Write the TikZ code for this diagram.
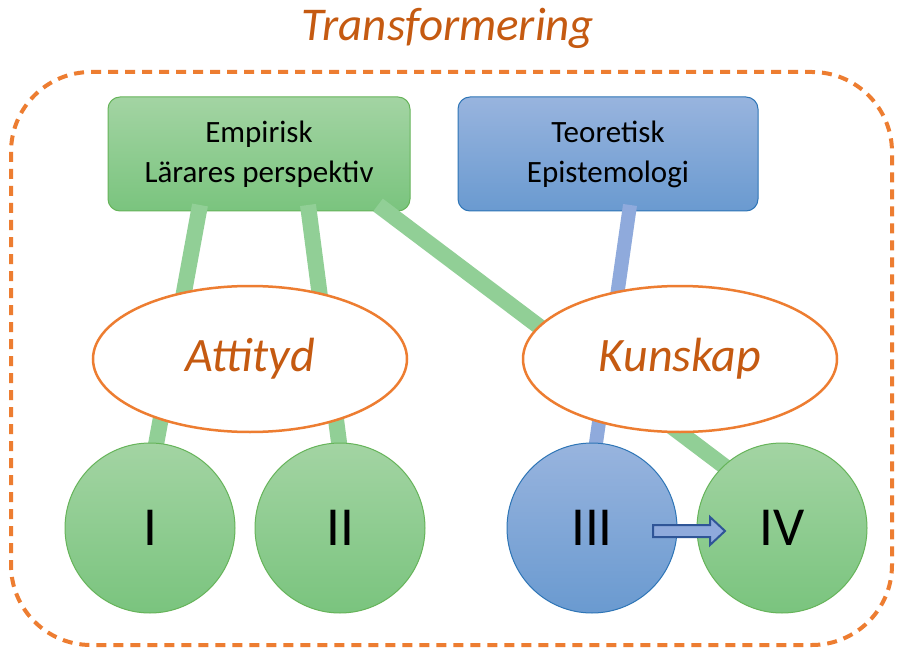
\documentclass[tikz,border=0pt]{standalone}
\usepackage{fontspec}
\setmainfont{Carlito}
\usetikzlibrary{shapes.geometric}
\definecolor{orangeL}{RGB}{237,125,49}
\definecolor{orangeT}{RGB}{197,90,17}
\definecolor{greenTop}{RGB}{163,212,163}
\definecolor{greenBot}{RGB}{122,196,126}
\definecolor{greenBd}{RGB}{102,180,90}
\definecolor{greenLn}{RGB}{145,207,150}
\definecolor{blueTop}{RGB}{152,180,222}
\definecolor{blueBot}{RGB}{106,154,208}
\definecolor{blueBd}{RGB}{46,117,182}
\definecolor{blueLn}{RGB}{143,170,220}
\definecolor{arrowBd}{RGB}{47,85,151}
\tikzset{
  gbox/.style={rounded corners=12pt, draw=greenBd, line width=1pt, top color=greenTop, bottom color=greenBot, minimum width=302pt, minimum height=114pt, align=center, font=\fontsize{31}{40}\selectfont},
  bbox/.style={rounded corners=12pt, draw=blueBd, line width=1pt, top color=blueTop, bottom color=blueBot, minimum width=300pt, minimum height=114pt, align=center, font=\fontsize{31}{40}\selectfont},
  topic/.style={ellipse, draw=orangeL, line width=2.5pt, fill=white, inner sep=0pt, minimum width=314pt, minimum height=146pt, font=\fontsize{48}{54}\selectfont\itshape, text=orangeT},
  gcirc/.style={circle, draw=greenBd, line width=1pt, top color=greenTop, bottom color=greenBot, minimum size=170pt, inner sep=0pt, font=\fontsize{55}{60}\selectfont},
  bcirc/.style={circle, draw=blueBd, line width=1pt, top color=blueTop, bottom color=blueBot, minimum size=170pt, inner sep=0pt, font=\fontsize{55}{60}\selectfont},
  gline/.style={draw=greenLn, line width=16pt},
  bline/.style={draw=blueLn, line width=14pt},
}
\begin{document}
\begin{tikzpicture}[x=1pt, y=-1pt]
\useasboundingbox (0,0) rectangle (903,650);
\fill[white] (0,0) rectangle (903,650);
% outer dashed border
\draw[orangeL, line width=4pt, dash pattern=on 10pt off 7pt, rounded corners=80pt] (11,72) rectangle (892,645);
\node[anchor=base, font=\fontsize{47}{52}\selectfont\itshape, text=orangeT, inner sep=0pt] (title) at (448,41) {Transformering};
% boxes
\node[gbox] (emp) at (259,154) {Empirisk\\Lärares perspektiv};
\node[bbox] (teo) at (608,154) {Teoretisk\\Epistemologi};
% coordinates for connector ends
\coordinate (e1) at (200,205);
\coordinate (e2) at (308,205);
\coordinate (e3) at (378,205);
\coordinate (t1) at (630,205);
% circles positions
\coordinate (cI) at (150,528);
\coordinate (cII) at (340,528);
\coordinate (cIII) at (592,528);
\coordinate (cIV) at (782,528);
% connectors behind
\draw[gline] (e1) -- (155,450) coordinate (i1);
\draw[gline] (e2) -- (340,450) coordinate (i2);
\draw[gline] (e3) -- (732,472) coordinate (i4);
\draw[bline] (t1) -- (595,450) coordinate (i3);
% ellipses
\node[topic] (att) at (250,359) {Attityd};
\node[topic] (kun) at (680,359) {Kunskap};
% circles
\node[gcirc] (I) at (cI) {I};
\node[gcirc] (II) at (cII) {II};
\node[bcirc] (III) at (cIII) {III};
\node[gcirc] (IV) at (cIV) {IV};
% block arrow III -> IV
\coordinate (a0) at (653,531);
\draw[draw=arrowBd, fill=blueLn, line width=2pt, line join=miter]
  (a0) ++(0,-6) -- ++(57,0) -- ++(0,-8) -- ++(15,14) -- ++(-15,14) -- ++(0,-8) -- ++(-57,0) -- cycle;
\end{tikzpicture}
\end{document}
